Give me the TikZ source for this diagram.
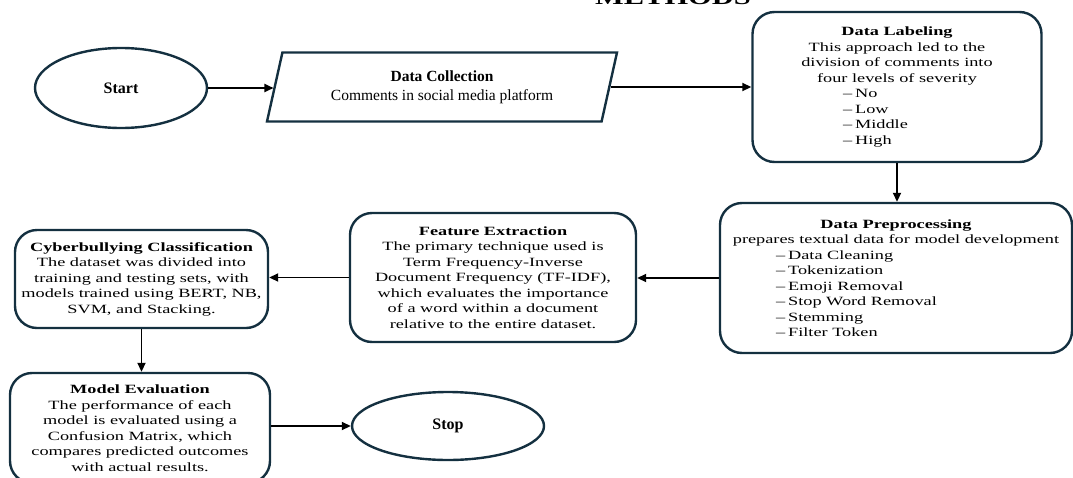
\documentclass[tikz,border=0pt]{standalone}
\usepackage{fontspec}
\setmainfont{Liberation Serif}[FakeStretch=1.45]
\newfontfamily\plainserif{Liberation Serif}
\usetikzlibrary{shapes.geometric,arrows.meta}
\definecolor{boxline}{RGB}{20,48,64}
% one severity / preprocessing step, left aligned in a centred block
\newcommand{\lvl}[2][108pt]{\makebox[#1][l]{\textendash\hspace{3pt}#2}}
\begin{document}
\begin{tikzpicture}[x=1pt, y=-1pt,
		font=\fontsize{12.6}{15.5}\selectfont,
		box/.style={draw=boxline, line width=2.4pt, rounded corners=22pt, align=center, inner sep=0pt},
		term/.style={ellipse, draw=boxline, line width=2.4pt, inner sep=0pt, font=\plainserif\fontsize{16}{19}\selectfont\bfseries},
		io/.style={trapezium, trapezium left angle=65, trapezium right angle=115, trapezium stretches body,
			draw=boxline, line width=2.4pt, align=center, inner sep=0pt, font=\plainserif\fontsize{15.5}{19}\selectfont},
		arrow/.style={-{Triangle[length=9pt,width=8pt]}, line width=1.8pt}
		]
		\useasboundingbox (0,0) rectangle (1073,477);
		\node[font=\fontsize{21}{21}\selectfont\bfseries, anchor=base] (title) at (673,4) {METHODS};

		% top row
		\node[term, minimum width=172pt, minimum height=80pt] (start) at (121,88) {Start};
		\node[io, minimum width=350pt, minimum height=69pt] (collect) at (442,87)
			{\textbf{Data Collection}\\Comments in social media platform};
		\node[box, minimum width=289pt, minimum height=150pt] (label) at (897,87)
			{\textbf{Data Labeling}\\This approach led to the\\division of comments into\\four levels of severity\\
			\lvl{No}\\\lvl{Low}\\\lvl{Middle}\\\lvl{High}};

		% middle row
		\node[box, minimum width=352pt, minimum height=150pt] (prep) at (896,278)
			{\textbf{Data Preprocessing}\\prepares textual data for model development\\
			\lvl[240pt]{Data Cleaning}\\\lvl[240pt]{Tokenization}\\\lvl[240pt]{Emoji Removal}\\
			\lvl[240pt]{Stop Word Removal}\\\lvl[240pt]{Stemming}\\\lvl[240pt]{Filter Token}};
		\node[box, minimum width=286pt, minimum height=129pt] (feat) at (493,277.5)
			{\textbf{Feature Extraction}\\The primary technique used is\\Term Frequency-Inverse\\
			Document Frequency (TF-IDF),\\which evaluates the importance\\of a word within a document\\
			relative to the entire dataset.};
		\node[box, minimum width=253pt, minimum height=98pt] (class) at (141.5,279)
			{\textbf{Cyberbullying Classification}\\The dataset was divided into\\training and testing sets, with\\
			models trained using BERT, NB,\\SVM, and Stacking.};

		% bottom row
		\node[box, minimum width=260pt, minimum height=110pt] (eval) at (140,428)
			{\textbf{Model Evaluation}\\The performance of each\\model is evaluated using a\\Confusion Matrix, which\\
			compares predicted outcomes\\with actual results.};
		\node[term, minimum width=192pt, minimum height=68pt] (stop) at (448,426) {Stop};

		\draw[arrow] (start.east) -- (start.east -| collect.west);
		\draw[arrow] (collect.east) -- (collect.east -| label.west);
		\draw[arrow] (label.south) -- (label.south |- prep.north);
		\draw[arrow] (prep.west) -- (prep.west -| feat.east);
		\draw[arrow] (feat.west) -- (feat.west -| class.east);
		\draw[arrow] (class.south) -- (class.south |- eval.north);
		\draw[arrow] (eval.east |- stop.west) -- (stop.west);
	\end{tikzpicture}
\end{document}
